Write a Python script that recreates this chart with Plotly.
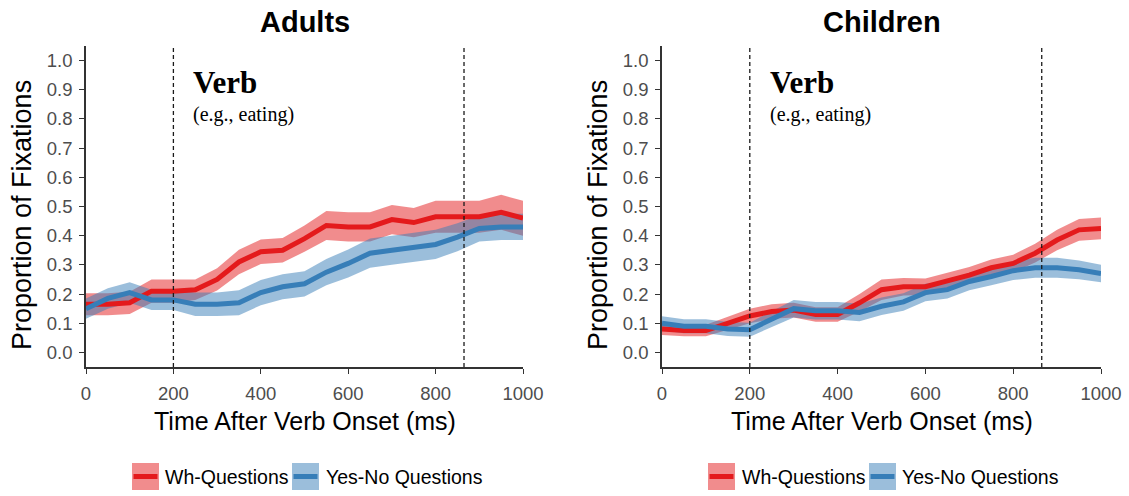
import plotly.graph_objects as go

# ---------------- data ----------------
time_ms = [0, 50, 100, 150, 200, 250, 300, 350, 400, 450, 500,
           550, 600, 650, 700, 750, 800, 850, 900, 950, 1000]

adult_wh = [0.165, 0.165, 0.17, 0.21, 0.21, 0.215, 0.25, 0.31, 0.345, 0.35, 0.39,
            0.435, 0.43, 0.43, 0.455, 0.445, 0.465, 0.465, 0.465, 0.48, 0.46]
adult_wh_se = [0.038, 0.038, 0.038, 0.04, 0.04, 0.035, 0.038, 0.042, 0.042, 0.042, 0.045,
               0.05, 0.05, 0.05, 0.05, 0.05, 0.055, 0.055, 0.055, 0.06, 0.06]
adult_yn = [0.15, 0.185, 0.205, 0.18, 0.18, 0.165, 0.165, 0.17, 0.205, 0.225, 0.235,
            0.275, 0.305, 0.34, 0.35, 0.36, 0.37, 0.395, 0.425, 0.43, 0.43]
adult_yn_se = [0.035, 0.035, 0.035, 0.035, 0.035, 0.04, 0.04, 0.043, 0.043, 0.043, 0.043,
               0.045, 0.048, 0.05, 0.05, 0.05, 0.05, 0.048, 0.045, 0.045, 0.045]

child_wh = [0.08, 0.075, 0.075, 0.10, 0.125, 0.14, 0.145, 0.13, 0.13, 0.17, 0.215,
            0.225, 0.225, 0.245, 0.265, 0.29, 0.305, 0.34, 0.385, 0.42, 0.425]
child_wh_se = [0.02, 0.02, 0.02, 0.022, 0.025, 0.025, 0.025, 0.025, 0.025, 0.03, 0.035,
               0.03, 0.028, 0.028, 0.028, 0.028, 0.03, 0.032, 0.035, 0.037, 0.037]
child_yn = [0.10, 0.09, 0.09, 0.08, 0.078, 0.115, 0.15, 0.143, 0.143, 0.137, 0.158,
            0.173, 0.205, 0.215, 0.243, 0.26, 0.28, 0.29, 0.29, 0.283, 0.27]
child_yn_se = [0.024, 0.024, 0.024, 0.024, 0.024, 0.027, 0.03, 0.03, 0.03, 0.03, 0.03,
               0.03, 0.03, 0.03, 0.03, 0.03, 0.032, 0.034, 0.034, 0.032, 0.03]

panel_titles = ["Adults", "Children"]
series_names = ["Wh-Questions", "Yes-No Questions"]
verb_window = [200, 865]
x_ticks = [0, 200, 400, 600, 800, 1000]
y_ticks = [0.0, 0.1, 0.2, 0.3, 0.4, 0.5, 0.6, 0.7, 0.8, 0.9, 1.0]

# ---------------- style ----------------
W, H = 1129, 496
RED, BLUE = "#E41A1C", "#377EB8"
RED_BAND, BLUE_BAND = "rgba(228,26,28,0.5)", "rgba(55,126,184,0.5)"
SANS = "Liberation Sans, Arial, sans-serif"
SERIF = "Liberation Serif, Times New Roman, serif"


def PX(x):
    return x / W


def PY(y):
    return 1 - y / H


fig = go.Figure()

panels = [
    ("x", "y", adult_wh, adult_wh_se, adult_yn, adult_yn_se),
    ("x2", "y2", child_wh, child_wh_se, child_yn, child_yn_se),
]

for xa, ya, wh, wh_se, yn, yn_se in panels:
    for vals, se, band in ((wh, wh_se, RED_BAND), (yn, yn_se, BLUE_BAND)):
        lo = [v - s for v, s in zip(vals, se)]
        hi = [v + s for v, s in zip(vals, se)]
        fig.add_trace(go.Scatter(x=time_ms, y=lo, mode="lines", line=dict(width=0),
                                 xaxis=xa, yaxis=ya, showlegend=False, hoverinfo="skip"))
        fig.add_trace(go.Scatter(x=time_ms, y=hi, mode="lines", line=dict(width=0),
                                 fill="tonexty", fillcolor=band,
                                 xaxis=xa, yaxis=ya, showlegend=False, hoverinfo="skip"))
    for vals, col, name in ((wh, RED, series_names[0]), (yn, BLUE, series_names[1])):
        fig.add_trace(go.Scatter(x=time_ms, y=vals, mode="lines", name=name,
                                 line=dict(color=col, width=5),
                                 xaxis=xa, yaxis=ya, showlegend=False))

# axes
plot_top, plot_bot = 46, 367
x_domains = [(86, 523), (662, 1101)]
axis_common = dict(showline=True, linecolor="#333333", linewidth=1.5,
                   ticks="outside", ticklen=5, tickwidth=1.3, tickcolor="#333333",
                   showgrid=False, zeroline=False, automargin=False,
                   tickfont=dict(family=SANS, size=18.5, color="#4d4d4d"))
for i, (l, r) in enumerate(x_domains):
    sfx = "" if i == 0 else str(i + 1)
    fig.layout["xaxis" + sfx] = dict(axis_common, domain=[PX(l), PX(r)], range=[0, 1000],
                                     tickvals=x_ticks, anchor="y" + sfx, ticklabelstandoff=4)
    fig.layout["yaxis" + sfx] = dict(axis_common, domain=[PY(plot_bot), PY(plot_top)],
                                     range=[-0.05, 1.05], tickvals=y_ticks,
                                     tickformat=".1f", anchor="x" + sfx, ticklabelstandoff=3)

shapes = []
annotations = []
for i, (l, r) in enumerate(x_domains):
    sfx = "" if i == 0 else str(i + 1)
    cx = (l + r) / 2
    for v in verb_window:
        shapes.append(dict(type="line", xref="x" + sfx, yref="y" + sfx + " domain",
                           x0=v, x1=v, y0=0, y1=1,
                           line=dict(color="#1a1a1a", width=1.3, dash="4px,3px")))
    annotations += [
        dict(text="<b>%s</b>" % panel_titles[i], x=PX(cx), y=PY(22), xref="paper", yref="paper",
             showarrow=False, xanchor="center", yanchor="middle",
             font=dict(family=SANS, size=29, color="black")),
        dict(text="Time After Verb Onset (ms)", x=PX(cx), y=PY(421), xref="paper", yref="paper",
             showarrow=False, xanchor="center", yanchor="middle",
             font=dict(family=SANS, size=25, color="black")),
        dict(text="Proportion of Fixations", x=PX(l - 64), y=PY(215),
             xref="paper", yref="paper", textangle=-90,
             showarrow=False, xanchor="center", yanchor="middle",
             font=dict(family=SANS, size=27, color="black")),
        dict(text="<b>Verb</b>", x=241, y=0.925, xref="x" + sfx, yref="y" + sfx,
             showarrow=False, xanchor="left", yanchor="middle",
             font=dict(family=SERIF, size=31, color="black")),
        dict(text="(e.g., eating)", x=241, y=0.815, xref="x" + sfx, yref="y" + sfx,
             showarrow=False, xanchor="left", yanchor="middle",
             font=dict(family=SERIF, size=20, color="black")),
    ]

# manual legends (ggplot-style keys)
legend_rows = [
    [(132, RED_BAND, RED, 163, series_names[0]), (292, BLUE_BAND, BLUE, 324, series_names[1])],
    [(708, RED_BAND, RED, 740, series_names[0]), (869, BLUE_BAND, BLUE, 900, series_names[1])],
]
for row in legend_rows:
    for bx, band, col, tx, label in row:
        shapes.append(dict(type="rect", xref="paper", yref="paper",
                           x0=PX(bx), x1=PX(bx + 27), y0=PY(490), y1=PY(463),
                           fillcolor=band, line=dict(width=0)))
        shapes.append(dict(type="line", xref="paper", yref="paper",
                           x0=PX(bx + 1.5), x1=PX(bx + 25.5), y0=PY(476.5), y1=PY(476.5),
                           line=dict(color=col, width=5)))
        annotations.append(dict(text=label, x=PX(tx), y=PY(477), xref="paper", yref="paper",
                                showarrow=False, xanchor="left", yanchor="middle",
                                font=dict(family=SANS, size=19.5, color="black")))

fig.update_layout(width=W, height=H, margin=dict(l=0, r=0, t=0, b=0, autoexpand=False),
                  paper_bgcolor="white", plot_bgcolor="white",
                  shapes=shapes, annotations=annotations, showlegend=False)

fig.write_html("out.html", config={"displayModeBar": False},
               post_script="document.body.style.margin='0px';document.body.style.overflow='hidden';")
